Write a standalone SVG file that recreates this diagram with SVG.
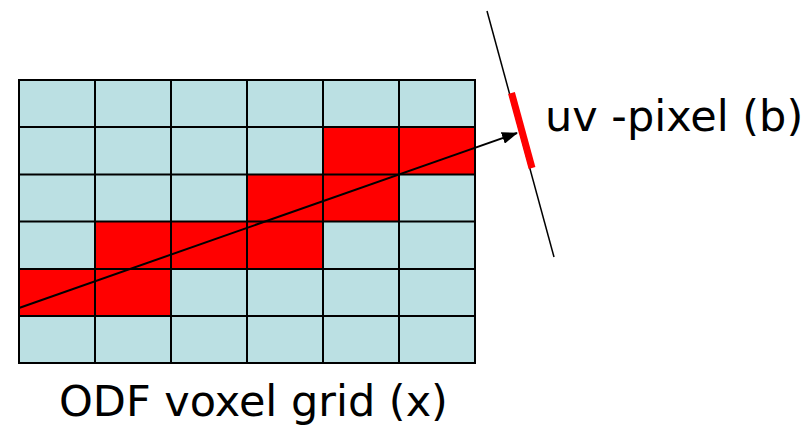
<svg xmlns="http://www.w3.org/2000/svg" width="812" height="426" viewBox="0 0 812 426">
<style>
.cell{fill:#bbe0e3;}
.hot{fill:#ff0000;}
.grid{stroke:#000;stroke-width:2;fill:none;}
.lbl{font-family:"DejaVu Sans",sans-serif;font-size:43px;fill:#000;}
</style>
<defs>
<marker id="ah" markerWidth="16" markerHeight="12" refX="15" refY="6" orient="auto" markerUnits="userSpaceOnUse" viewBox="0 0 16 12">
<path d="M0,0 L16,6 L0,12 z" fill="#000"/>
</marker>
</defs>
<g id="voxel-grid">
<rect class="cell" x="19" y="80" width="456" height="283"/>
<rect class="hot" x="323" y="127" width="152" height="47.5"/>
<rect class="hot" x="247" y="174.5" width="152" height="47"/>
<rect class="hot" x="95" y="221.5" width="228" height="47.5"/>
<rect class="hot" x="19" y="269" width="152" height="47"/>
<path class="grid" d="M19,80H475V363H19Z M95,80V363 M171,80V363 M247,80V363 M323,80V363 M399,80V363 M19,127H475 M19,174.5H475 M19,221.5H475 M19,269H475 M19,316H475"/>
</g>
<g id="detector">
<line x1="487" y1="11" x2="554" y2="257" stroke="#000" stroke-width="1.5"/>
<line x1="511.5" y1="93" x2="532" y2="168" stroke="#ff0000" stroke-width="7"/>
</g>
<g id="connectors">
<line x1="19" y1="308" x2="517" y2="133" stroke="#000" stroke-width="2" marker-end="url(#ah)"/>
</g>
<g id="labels">
<text class="lbl" x="545" y="131">uv -pixel (b)</text>
<text class="lbl" x="59" y="416">ODF voxel grid (x)</text>
</g>
</svg>
